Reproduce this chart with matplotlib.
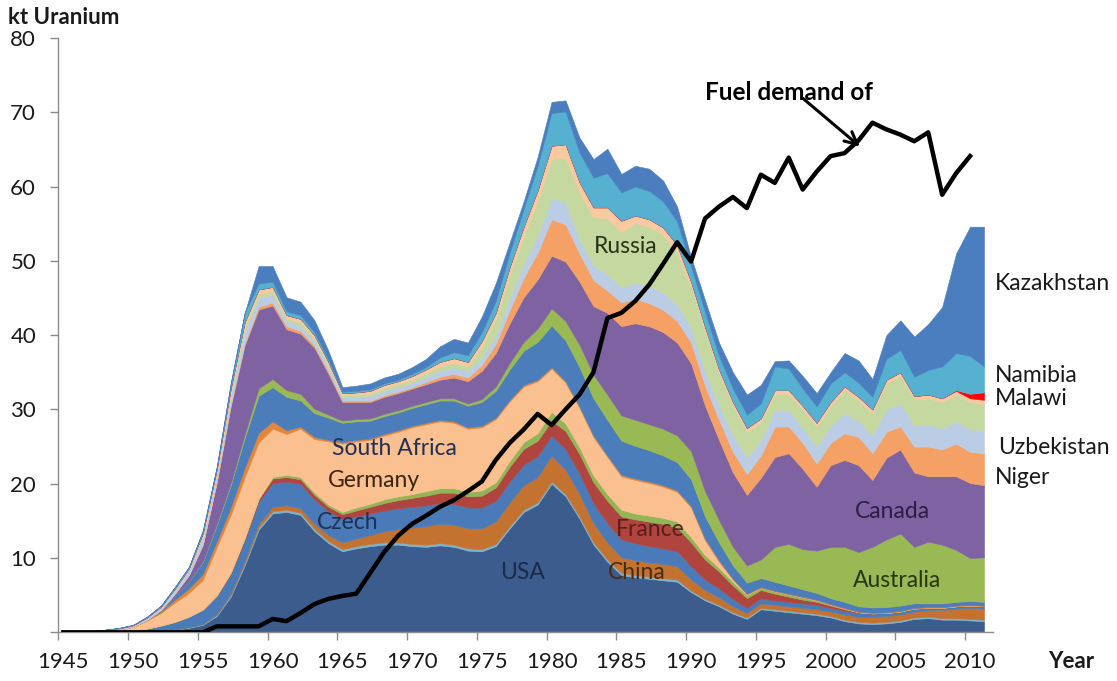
import numpy as np
import matplotlib
matplotlib.use("Agg")
import matplotlib.pyplot as plt

# uranium production by country, kt per year (1945-2011)
years = np.arange(1945, 2012)

usa = [0, 0, 0, 0, 0,
       0.05, 0.1, 0.2, 0.35, 0.6,
       1.0, 2.2, 4.8, 9.0, 13.8,
       16.0, 16.2, 15.8, 13.6, 12.0,
       10.9, 11.3, 11.6, 11.8, 11.8,
       11.6, 11.5, 11.7, 11.5, 11.0,
       10.9, 11.6, 14.0, 16.2, 17.2,
       20.0, 18.3, 15.3, 11.8, 9.5,
       7.7, 7.4, 7.2, 7.0, 6.8,
       5.4, 4.3, 3.5, 2.5, 1.8,
       3.1, 2.9, 2.7, 2.5, 2.3,
       2.0, 1.5, 1.2, 1.1, 1.2,
       1.4, 1.8, 1.9, 1.7, 1.7,
       1.6, 1.5]
other_a = [0, 0, 0, 0, 0,
           0, 0, 0, 0.05, 0.1,
           0.1, 0.15, 0.2, 0.25, 0.3,
           0.3, 0.3, 0.3, 0.3, 0.3,
           0.3, 0.3, 0.3, 0.3, 0.3,
           0.3, 0.3, 0.3, 0.3, 0.3,
           0.3, 0.3, 0.3, 0.3, 0.3,
           0.3, 0.3, 0.3, 0.3, 0.3,
           0.3, 0.3, 0.3, 0.3, 0.3,
           0.2, 0.2, 0.2, 0.2, 0.2,
           0.2, 0.2, 0.2, 0.2, 0.2,
           0.2, 0.2, 0.2, 0.2, 0.2,
           0.2, 0.2, 0.2, 0.2, 0.2,
           0.2, 0.2]
china = [0, 0, 0, 0, 0,
         0, 0, 0, 0, 0,
         0.05, 0.1, 0.2, 0.3, 0.45,
         0.6, 0.6, 0.6, 0.7, 0.8,
         0.9, 1.0, 1.2, 1.5, 1.8,
         2.2, 2.5, 2.6, 2.7, 2.7,
         2.8, 3.0, 3.2, 3.3, 3.4,
         3.5, 3.3, 3.0, 2.6, 2.3,
         2.1, 2.0, 1.9, 1.9, 1.8,
         1.5, 1.2, 1.0, 0.8, 0.6,
         0.6, 0.6, 0.6, 0.6, 0.6,
         0.6, 0.7, 0.7, 0.8, 0.8,
         0.8, 0.8, 0.9, 1.1, 1.3,
         1.5, 1.5]
czech = [0, 0, 0, 0.05, 0.1,
         0.2, 0.4, 0.7, 1.0, 1.4,
         1.9, 2.4, 2.6, 2.8, 3.0,
         3.2, 3.2, 3.3, 3.3, 3.2,
         3.1, 3.0, 2.9, 2.8, 2.8,
         2.8, 2.8, 2.8, 2.8, 2.8,
         2.8, 2.8, 2.8, 2.8, 2.8,
         2.7, 2.8, 2.8, 2.7, 2.6,
         2.4, 2.3, 2.2, 2.1, 2.0,
         1.8, 1.4, 1.2, 1.0, 0.7,
         0.7, 0.6, 0.6, 0.6, 0.6,
         0.5, 0.5, 0.5, 0.4, 0.4,
         0.4, 0.4, 0.3, 0.3, 0.3,
         0.3, 0.3]
france = [0, 0, 0, 0, 0,
          0, 0, 0, 0, 0,
          0, 0.1, 0.2, 0.3, 0.4,
          0.6, 0.6, 0.6, 0.6, 0.6,
          0.7, 0.8, 0.9, 1.0, 1.1,
          1.2, 1.3, 1.4, 1.5, 1.5,
          1.6, 1.8, 2.0, 2.1, 2.1,
          2.0, 2.4, 2.6, 2.8, 3.0,
          3.1, 3.2, 3.3, 3.3, 3.2,
          3.2, 2.7, 2.3, 1.8, 1.3,
          1.1, 0.9, 0.7, 0.5, 0.4,
          0.3, 0.2, 0.1, 0.05, 0,
          0, 0, 0, 0, 0,
          0, 0]
gabon = [0, 0, 0, 0, 0,
         0, 0, 0, 0, 0,
         0, 0, 0, 0, 0,
         0.2, 0.3, 0.3, 0.3, 0.3,
         0.3, 0.4, 0.4, 0.5, 0.5,
         0.5, 0.6, 0.6, 0.6, 0.6,
         0.7, 0.7, 0.8, 0.9, 1.0,
         1.2, 1.0, 0.9, 0.9, 0.9,
         0.9, 0.8, 0.8, 0.8, 0.8,
         0.7, 0.6, 0.5, 0.5, 0.4,
         0.3, 0.3, 0.3, 0.3, 0.2,
         0.1, 0.1, 0, 0, 0,
         0, 0, 0, 0, 0,
         0, 0]
germany = [0, 0.05, 0.1, 0.2, 0.3,
           0.5, 1.1, 1.7, 2.6, 3.2,
           4.0, 6.5, 7.8, 8.2, 7.6,
           6.5, 5.5, 6.5, 7.2, 8.5,
           9.2, 8.9, 8.6, 8.6, 8.7,
           9.0, 9.0, 9.0, 8.8, 8.5,
           8.5, 8.5, 8.0, 7.5, 7.0,
           5.8, 5.5, 5.3, 5.2, 5.0,
           4.5, 4.5, 4.4, 4.2, 4.0,
           4.0, 2.0, 0.8, 0.3, 0.1,
           0, 0, 0, 0, 0,
           0, 0, 0, 0, 0,
           0, 0, 0, 0, 0,
           0, 0]
other_b = [0, 0, 0, 0, 0,
           0, 0.1, 0.2, 0.4, 0.6,
           0.8, 0.8, 1.0, 1.3, 1.3,
           1.0, 0.5, 0.3, 0.3, 0.2,
           0.2, 0.2, 0.2, 0.2, 0.2,
           0.2, 0.2, 0.2, 0.2, 0.2,
           0.2, 0.2, 0.2, 0.2, 0.2,
           0.2, 0.2, 0.2, 0.2, 0.2,
           0.2, 0.2, 0.2, 0.2, 0.2,
           0.2, 0.2, 0.2, 0.1, 0.1,
           0.1, 0.1, 0.1, 0.1, 0.1,
           0.1, 0.1, 0.1, 0.1, 0.1,
           0.1, 0.1, 0.1, 0.1, 0.1,
           0.1, 0.1]
south_africa = [0, 0, 0, 0, 0,
                0, 0, 0.1, 0.5, 1.0,
                1.6, 2.2, 3.0, 4.0, 5.0,
                4.6, 4.5, 3.5, 3.2, 3.0,
                2.6, 2.5, 2.4, 2.4, 2.4,
                2.4, 2.5, 2.6, 2.8, 2.9,
                3.2, 3.6, 4.1, 4.6, 5.1,
                5.6, 5.5, 5.3, 5.0, 4.8,
                4.6, 4.4, 4.2, 4.0, 3.8,
                3.6, 3.0, 2.4, 1.8, 1.5,
                1.2, 1.2, 1.1, 1.0, 0.9,
                0.8, 0.8, 0.7, 0.7, 0.7,
                0.7, 0.6, 0.5, 0.5, 0.5,
                0.5, 0.5]
australia = [0, 0, 0, 0, 0,
             0, 0, 0, 0, 0,
             0.1, 0.2, 0.3, 0.5, 1.0,
             1.1, 0.9, 0.9, 0.6, 0.4,
             0.3, 0.3, 0.3, 0.3, 0.3,
             0.3, 0.3, 0.3, 0.3, 0.3,
             0.4, 0.6, 0.9, 1.2, 1.8,
             2.3, 2.6, 3.0, 3.2, 3.4,
             3.4, 3.5, 3.5, 3.6, 3.6,
             3.8, 3.4, 3.0, 2.5, 2.3,
             2.5, 4.7, 5.6, 5.4, 5.7,
             6.9, 7.4, 7.3, 8.15, 9.1,
             9.7, 7.6, 8.3, 7.9, 7.0,
             5.8, 6.0]
canada = [0, 0, 0, 0, 0,
          0, 0, 0.1, 0.3, 0.8,
          2.2, 5.5, 10.3, 12.0, 10.6,
          9.9, 8.2, 8.1, 8.2, 5.5,
          2.5, 2.3, 2.2, 2.3, 2.3,
          2.3, 2.4, 2.5, 2.8, 3.0,
          3.8, 4.5, 5.3, 6.0, 6.6,
          7.1, 8.0, 8.5, 9.2, 11.0,
          12.0, 13.0, 13.2, 13.0, 12.5,
          11.8, 11.5, 10.8, 10.0, 9.5,
          11.0, 12.1, 12.2, 10.8, 8.6,
          11.0, 11.7, 11.7, 9.0, 11.0,
          11.3, 10.0, 8.8, 9.2, 9.9,
          10.1, 9.7]
niger = [0, 0, 0, 0, 0,
         0, 0, 0, 0, 0,
         0.1, 0.2, 0.3, 0.3, 0.4,
         0.4, 0.4, 0.4, 0.3, 0.3,
         0.2, 0.2, 0.2, 0.2, 0.2,
         0.2, 0.3, 0.4, 0.5, 0.5,
         0.8, 1.2, 1.8, 2.6, 3.6,
         4.9, 5.0, 3.8, 3.5, 3.0,
         3.2, 3.3, 3.1, 3.0, 2.9,
         2.8, 2.7, 2.7, 2.8, 2.8,
         3.0, 4.1, 3.6, 3.5, 3.1,
         3.0, 3.6, 3.8, 3.6, 3.5,
         3.1, 3.5, 4.0, 3.6, 4.4,
         4.2, 4.3]
uzbekistan = [0, 0, 0.05, 0.1, 0.15,
              0.2, 0.3, 0.45, 0.6, 0.7,
              1.0, 1.0, 1.2, 1.6, 1.2,
              1.1, 0.7, 0.7, 0.6, 0.5,
              0.4, 0.5, 0.6, 0.6, 0.6,
              0.6, 0.7, 0.8, 0.9, 0.9,
              1.0, 1.2, 1.6, 1.9, 2.3,
              2.8, 3.0, 1.9, 2.0, 2.2,
              2.0, 2.2, 2.3, 2.3, 2.2,
              2.0, 2.0, 2.0, 2.2, 2.2,
              2.0, 2.2, 2.2, 2.0, 2.3,
              2.3, 2.7, 2.2, 2.4, 3.0,
              3.1, 2.8, 3.0, 2.8, 3.0,
              3.0, 3.1]
russia = [0, 0, 0, 0, 0,
          0, 0, 0, 0.1, 0.1,
          0.2, 0.3, 0.4, 0.6, 0.5,
          0.5, 0.4, 0.4, 0.4, 0.4,
          0.3, 0.3, 0.3, 0.4, 0.4,
          0.4, 0.5, 0.6, 0.6, 0.6,
          1.5, 2.2, 3.2, 3.8, 4.6,
          5.3, 6.0, 6.3, 6.5, 7.5,
          7.5, 8.0, 8.0, 7.8, 7.0,
          5.5, 5.3, 4.3, 4.0, 3.5,
          2.5, 2.2, 2.2, 2.5, 2.7,
          2.7, 3.1, 2.7, 3.0, 3.5,
          3.7, 3.5, 3.5, 3.6, 3.6,
          3.7, 3.6]
ukraine = [0, 0, 0, 0, 0,
           0, 0, 0, 0, 0.1,
           0.3, 0.3, 0.5, 0.6, 0.6,
           0.5, 0.4, 0.5, 0.4, 0.4,
           0.3, 0.3, 0.4, 0.4, 0.4,
           0.5, 0.5, 0.6, 0.6, 0.6,
           0.7, 0.8, 1.0, 1.2, 1.5,
           1.8, 1.8, 1.4, 1.3, 1.5,
           1.5, 1.0, 1.0, 1.0, 1.0,
           0.7, 0.6, 0.5, 0.5, 0.5,
           0.5, 0.5, 0.5, 0.5, 0.5,
           0.5, 0.5, 0.5, 0.5, 0.5,
           0.5, 0.5, 0.5, 0.5, 0.5,
           0.5, 0.5]
malawi = [0] * 64 + [0.1, 0.6, 1.0]
namibia = [0, 0, 0, 0, 0.05,
           0.05, 0.1, 0.15, 0.2, 0.2,
           0.35, 0.35, 0.7, 1.25, 0.8,
           0.7, 0.5, 0.5, 0.4, 0.3,
           0.2, 0.2, 0.2, 0.2, 0.2,
           0.3, 0.3, 0.6, 0.8, 0.9,
           1.2, 1.6, 1.9, 2.4, 3.3,
           4.4, 4.4, 4.0, 4.0, 4.6,
           3.8, 3.9, 3.8, 3.5, 3.2,
           2.0, 2.0, 1.8, 1.8, 1.8,
           2.0, 3.2, 2.9, 2.3, 2.2,
           2.5, 1.9, 1.9, 1.7, 2.8,
           3.0, 2.6, 3.3, 4.3, 5.0,
           5.1, 3.5]
kazakhstan = [0, 0, 0, 0, 0,
              0, 0, 0, 0, 0,
              0, 0, 0, 0, 2.35,
              2.1, 1.9, 1.8, 1.6, 1.2,
              0.6, 0.7, 0.8, 0.8, 0.8,
              0.9, 1.1, 1.5, 1.8, 1.7,
              2.1, 2.4, 1.4, 1.0, 1.2,
              1.5, 1.5, 2.0, 2.5, 3.3,
              2.5, 2.8, 3.0, 2.8, 2.0,
              1.3, 1.6, 1.8, 2.2, 2.7,
              2.5, 0.7, 1.1, 1.7, 1.8,
              1.5, 2.6, 3.0, 2.4, 3.2,
              4.0, 5.4, 6.2, 8.0, 13.4,
              17.4, 18.8]

# reactor fuel demand (black line), 1945-2010
demand_years = np.arange(1945, 2011)
fuel_demand = [0, 0, 0, 0, 0,
               0, 0, 0, 0, 0,
               0, 0.8, 0.8, 0.8, 0.8,
               1.8, 1.5, 2.6, 3.8, 4.5,
               4.9, 5.2, 8.0, 10.8, 13.0,
               14.6, 15.7, 16.9, 17.8, 19.0,
               20.3, 23.2, 25.5, 27.3, 29.4,
               27.9, 30.0, 32.0, 35.0, 42.3,
               43.0, 44.6, 46.8, 49.6, 52.5,
               49.9, 55.7, 57.3, 58.6, 57.1,
               61.6, 60.5, 63.9, 59.6, 62.0,
               64.1, 64.5, 66.2, 68.6, 67.7,
               67.0, 66.1, 67.3, 58.9, 61.8,
               64.1]

layers = [usa, other_a, china, czech, france, gabon, germany, other_b,
          south_africa, australia, canada, niger, uzbekistan, russia,
          ukraine, malawi, namibia, kazakhstan]
colors = ['#3B5C8C', '#7DB4CC', '#C4722F', '#4A7BB8', '#B0443F', '#93B555',
          '#FAC08F', '#E3853A', '#4C7DBB', '#98B954', '#7E62A1', '#F5A064',
          '#BBCCE5', '#C5D8A0', '#F9C9A0', '#FF0000', '#56B1D0', '#4A7EBF']

plt.rcParams['font.family'] = ['Lato', 'DejaVu Sans']

fig = plt.figure(figsize=(11.17, 6.81), dpi=100)
ax = fig.add_axes([0.0522, 0.0715, 0.8365, 0.8727])

polys = ax.stackplot(years, *layers, colors=colors)
for p, c in zip(polys, colors):
    p.set_edgecolor(c)
    p.set_linewidth(0.4)

ax.plot(demand_years, fuel_demand, color='black', lw=3.2, zorder=5)

ax.set_xlim(1944.64, 2011.62)
ax.set_ylim(0, 80)

for s in ['top', 'right']:
    ax.spines[s].set_visible(False)
for s in ['left', 'bottom']:
    ax.spines[s].set_color('#8C8C8C')
    ax.spines[s].set_linewidth(1.0)

label_years = np.arange(1945, 2011, 5)
ax.set_xticks(label_years)
ax.set_xticklabels([str(y) for y in label_years])
ax.set_xticks(label_years - 0.36, minor=True)
ax.tick_params(axis='x', which='major', length=0, pad=14, labelsize=16,
               labelcolor='#1A1A1A')
ax.tick_params(axis='x', which='minor', length=6, width=1, color='#8C8C8C')

ax.set_yticks(range(0, 81, 10))
ax.set_yticklabels([''] + [str(v) for v in range(10, 81, 10)])
ax.tick_params(axis='y', length=6, width=1, color='#8C8C8C', pad=10,
               labelsize=16, labelcolor='#1A1A1A')

# country labels inside the chart
inner = [('South Africa', 1968.7, 24.8, '#1F2F55'),
         ('Germany', 1967.3, 20.4, '#3A2414'),
         ('Czech', 1965.4, 14.8, '#1F2F55'),
         ('USA', 1977.9, 8.1, '#1B2A4A'),
         ('France', 1987.1, 13.8, '#5A1F1C'),
         ('China', 1986.1, 8.0, '#4A2A0E'),
         ('Russia', 1985.3, 51.9, '#26331A'),
         ('Canada', 2004.4, 16.2, '#2B1E45'),
         ('Australia', 2004.8, 7.0, '#263613')]
for name, x, y, c in inner:
    ax.text(x, y, name, fontsize=16.5, color=c, ha='center', va='center',
            zorder=6)

# labels to the right of the chart
outer = [('Kazakhstan', 2011.8, 47.0),
         ('Namibia', 2011.8, 34.6),
         ('Malawi', 2011.8, 31.5),
         ('Uzbekistan', 2012.0, 24.9),
         ('Niger', 2011.8, 20.9)]
for name, x, y in outer:
    ax.text(x, y, name, fontsize=16.5, color='#1A1A1A', ha='left',
            va='center', clip_on=False)

ax.text(1991.0, 72.7, 'Fuel demand of', fontsize=17.5, fontweight='bold',
        ha='left', va='center', zorder=6)
ax.annotate('', xy=(2002.1, 65.4), xytext=(1998.0, 71.9),
            arrowprops=dict(arrowstyle='->', lw=2.2, color='black',
                            mutation_scale=22, shrinkA=0, shrinkB=0),
            zorder=7)

fig.text(0.0075, 0.975, 'kt Uranium', fontsize=16, fontweight='bold',
         ha='left', va='center', color='#1A1A1A')
fig.text(0.959, 0.028, 'Year', fontsize=16, fontweight='bold',
         ha='center', va='center', color='#1A1A1A')

fig.savefig('out.png', dpi=100, facecolor='white')
